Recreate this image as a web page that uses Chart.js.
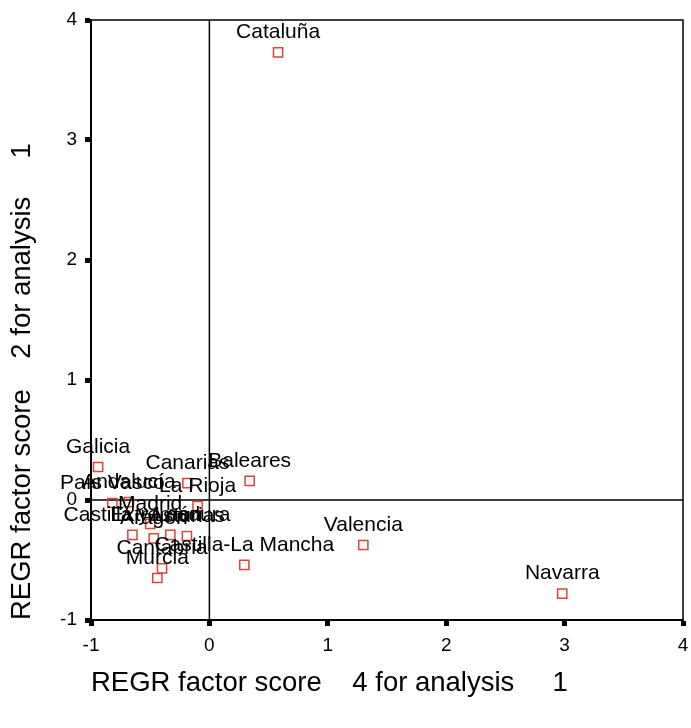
<!DOCTYPE html>
<html>
<head>
<meta charset="utf-8">
<script src="https://cdn.jsdelivr.net/npm/chart.js@4"></script>
<style>
  body { margin: 0; background: #fff; }
  canvas { display: block; }
</style>
</head>
<body>
<canvas id="chart" width="691" height="728"></canvas>
<script>
// comunidades y puntuaciones factoriales
const regions = ['Cataluña', 'Navarra', 'Valencia', 'Baleares', 'Galicia', 'Canarias', 'La Rioja',
  'Castilla-La Mancha', 'País Vasco', 'Andalucía', 'Madrid', 'Castilla y León', 'Aragón',
  'Extremadura', 'Asturias', 'Cantabria', 'Murcia'];
const factor4 = [0.58, 2.98, 1.30, 0.34, -0.94, -0.185, -0.10, 0.295, -0.82, -0.68, -0.50, -0.65, -0.47, -0.33, -0.19, -0.40, -0.44];
const factor2 = [3.73, -0.78, -0.375, 0.16, 0.275, 0.14, -0.05, -0.54, -0.025, -0.017, -0.20, -0.29, -0.32, -0.29, -0.30, -0.57, -0.65];
const xTicks = [-1, 0, 1, 2, 3, 4];
const yTicks = [-1, 0, 1, 2, 3, 4];

const FONT = "'Liberation Sans', Arial, sans-serif";

const points = regions.map((r, i) => ({ x: factor4[i], y: factor2[i], name: r }));

// marco, líneas de referencia y etiquetas de los puntos
const framePlugin = {
  id: 'frame',
  beforeDatasetsDraw(chart) {
    const { ctx, chartArea: a, scales: { x, y } } = chart;
    ctx.save();
    ctx.strokeStyle = '#000';
    ctx.lineWidth = 1.5;
    ctx.strokeRect(a.left, a.top, a.right - a.left, a.bottom - a.top);
    const x0 = x.getPixelForValue(0);
    const y0 = y.getPixelForValue(0);
    ctx.beginPath();
    ctx.moveTo(x0, a.top); ctx.lineTo(x0, a.bottom);
    ctx.moveTo(a.left, y0); ctx.lineTo(a.right, y0);
    ctx.stroke();
    ctx.restore();
  },
  afterDatasetsDraw(chart) {
    const { ctx, scales: { x, y } } = chart;
    ctx.save();
    ctx.fillStyle = '#000';
    ctx.font = '21px ' + FONT;
    ctx.textAlign = 'center';
    ctx.textBaseline = 'middle';
    points.forEach(p => {
      ctx.fillText(p.name, x.getPixelForValue(p.x), y.getPixelForValue(p.y) - 20);
    });
    ctx.restore();
  }
};

new Chart(document.getElementById('chart'), {
  type: 'scatter',
  data: {
    datasets: [{
      data: points,
      pointStyle: 'rect',
      pointRadius: 6.5,
      pointBorderWidth: 1.5,
      borderColor: '#d8453a',
      backgroundColor: 'rgba(0,0,0,0)'
    }]
  },
  options: {
    responsive: false,
    animation: false,
    layout: { padding: { top: 20, right: 7, left: 0, bottom: 0 } },
    plugins: { legend: { display: false }, tooltip: { enabled: false } },
    scales: {
      x: {
        type: 'linear',
        min: -1, max: 4,
        afterBuildTicks: s => { s.ticks = xTicks.map(v => ({ value: v })); },
        afterFit: s => { s.height = 108; s.paddingLeft = 0; s.paddingRight = 0; },
        border: { display: true, color: '#000', width: 2 },
        grid: { drawOnChartArea: false, drawTicks: true, tickLength: 6, tickWidth: 5, tickColor: '#000', color: '#000' },
        ticks: { color: '#000', padding: 8, font: { family: FONT, size: 19 } },
        title: {
          display: true, align: 'start',
          text: 'REGR factor score    4 for analysis     1',
          color: '#000', font: { family: FONT, size: 27.5 },
          padding: { top: 0, bottom: 28 }
        }
      },
      y: {
        type: 'linear',
        min: -1, max: 4,
        afterBuildTicks: s => { s.ticks = yTicks.map(v => ({ value: v })); },
        afterFit: s => { s.width = 91; s.paddingTop = 0; s.paddingBottom = 0; },
        border: { display: true, color: '#000', width: 2 },
        grid: { drawOnChartArea: false, drawTicks: true, tickLength: 6, tickWidth: 5, tickColor: '#000', color: '#000' },
        ticks: { color: '#000', padding: 8, font: { family: FONT, size: 19 } },
        title: {
          display: true, align: 'start',
          text: 'REGR factor score    2 for analysis     1',
          color: '#000', font: { family: FONT, size: 27.5 },
          padding: { top: 6, bottom: 0 }
        }
      }
    }
  },
  plugins: [framePlugin]
});
</script>
</body>
</html>
